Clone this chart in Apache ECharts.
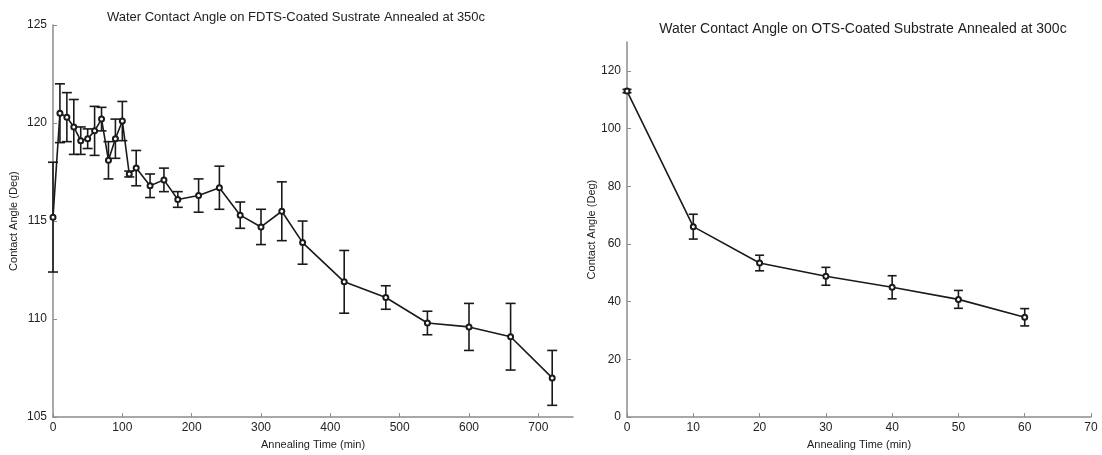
<!DOCTYPE html>
<html>
<head>
<meta charset="utf-8">
<script src="https://cdn.jsdelivr.net/npm/echarts@6/dist/echarts.min.js"></script>
<style>
html,body{margin:0;padding:0;background:#fff;}
#c{width:1102px;height:455px;}
</style>
</head>
<body>
<div id="c"></div>
<script>
// ---- data ----
var leftTitle = 'Water Contact Angle on FDTS-Coated Sustrate Annealed at 350c';
var rightTitle = 'Water Contact Angle on OTS-Coated Substrate Annealed at 300c';
var xName = 'Annealing Time (min)';
var yName = 'Contact Angle (Deg)';

var leftTime  = [0,10,20,30,40,50,60,70,80,90,100,110,120,140,160,180,210,240,270,300,330,360,420,480,540,600,660,720];
var leftAngle = [115.2,120.5,120.3,119.8,119.1,119.2,119.6,120.2,118.1,119.2,120.1,117.4,117.7,116.8,117.1,116.1,116.3,116.7,115.3,114.7,115.5,113.9,111.9,111.1,109.8,109.6,109.1,107.0];
var leftErr   = [2.8,1.5,1.25,1.4,0.7,0.5,1.25,0.6,0.95,1.0,1.0,0.15,0.9,0.6,0.6,0.4,0.85,1.1,0.67,0.9,1.5,1.1,1.6,0.6,0.6,1.2,1.7,1.4];

var rightTime  = [0,10,20,30,40,50,60];
var rightAngle = [113.0,66.0,53.4,48.8,45.0,40.8,34.6];
var rightErr   = [0.6,4.3,2.7,3.1,4.0,3.1,3.0];

var leftXTicks  = [0,100,200,300,400,500,600,700];
var leftYTicks  = [105,110,115,120,125];
var rightXTicks = [0,10,20,30,40,50,60,70];
var rightYTicks = [0,20,40,60,80,100,120];

// ---- build ----
function pts(t, v){ return t.map(function(x,i){ return [x, v[i]]; }); }
function errData(t, v, e){ return t.map(function(x,i){ return [x, v[i]-e[i], v[i]+e[i]]; }); }

function errRender(capHalf){
  return function(params, api){
    var x = api.value(0);
    var lo = api.coord([x, api.value(1)]);
    var hi = api.coord([x, api.value(2)]);
    var st = {stroke:'#1a1a1a', lineWidth:1.6};
    return {type:'group', children:[
      {type:'line', shape:{x1:lo[0],y1:lo[1],x2:hi[0],y2:hi[1]}, style:st},
      {type:'line', shape:{x1:lo[0]-capHalf,y1:lo[1],x2:lo[0]+capHalf,y2:lo[1]}, style:st},
      {type:'line', shape:{x1:hi[0]-capHalf,y1:hi[1],x2:hi[0]+capHalf,y2:hi[1]}, style:st}
    ]};
  };
}

var FONT = '"Liberation Sans", Arial, sans-serif';
var axisLineStyle = {color:'#8c8c8c', width:1.5};
function xAx(idx, min, max, ticks){
  return {
    type:'value', gridIndex:idx, min:min, max:max,
    name:xName, nameLocation:'middle', nameGap:20,
    nameTextStyle:{color:'#222', fontSize:11, fontFamily:FONT},
    axisLine:{show:true, lineStyle:axisLineStyle},
    axisTick:{show:true, inside:true, length:4, customValues:ticks, lineStyle:{color:'#8c8c8c'}},
    axisLabel:{show:true, customValues:ticks, color:'#222', fontSize:12, fontFamily:FONT, margin:5},
    splitLine:{show:false}
  };
}
function yAx(idx, min, max, ticks, gap){
  return {
    type:'value', gridIndex:idx, min:min, max:max,
    name:yName, nameLocation:'middle', nameGap:gap,
    nameTextStyle:{color:'#222', fontSize:11, fontFamily:FONT},
    axisLine:{show:true, lineStyle:axisLineStyle},
    axisTick:{show:true, inside:true, length:4, customValues:ticks, lineStyle:{color:'#8c8c8c'}},
    axisLabel:{show:true, customValues:ticks, color:'#222', fontSize:12, fontFamily:FONT, margin:6},
    splitLine:{show:false}
  };
}

var chart = echarts.init(document.getElementById('c'), null, {renderer:'canvas'});
chart.setOption({
  animation:false,
  backgroundColor:'#fff',
  title:[
    {text:leftTitle, left:291, textAlign:'center', top:6, textStyle:{fontSize:13, fontWeight:'normal', color:'#222', fontFamily:FONT}},
    {text:rightTitle, left:858, textAlign:'center', top:17, textStyle:{fontSize:14, fontWeight:'normal', color:'#222', fontFamily:FONT}}
  ],
  grid:[
    {left:53, right:529, top:25, bottom:36},
    {left:627, right:11, top:42, bottom:36}
  ],
  xAxis:[ xAx(0, 0, 750, leftXTicks), xAx(1, 0, 70, rightXTicks) ],
  yAxis:[ yAx(0, 105, 125, leftYTicks, 34), yAx(1, 0, 130, rightYTicks, 23) ],
  series:[
    {type:'custom', xAxisIndex:0, yAxisIndex:0, renderItem:errRender(5), data:errData(leftTime,leftAngle,leftErr), z:2},
    {type:'line', xAxisIndex:0, yAxisIndex:0, data:pts(leftTime,leftAngle), symbol:'emptyCircle', symbolSize:5,
     lineStyle:{color:'#1a1a1a', width:1.6}, itemStyle:{color:'#1a1a1a', borderColor:'#1a1a1a', borderWidth:1.4}, z:3},
    {type:'custom', xAxisIndex:1, yAxisIndex:1, renderItem:errRender(4.5), data:errData(rightTime,rightAngle,rightErr), z:2},
    {type:'line', xAxisIndex:1, yAxisIndex:1, data:pts(rightTime,rightAngle), symbol:'emptyCircle', symbolSize:5,
     lineStyle:{color:'#1a1a1a', width:1.6}, itemStyle:{color:'#1a1a1a', borderColor:'#1a1a1a', borderWidth:1.4}, z:3}
  ]
});
</script>
</body>
</html>
